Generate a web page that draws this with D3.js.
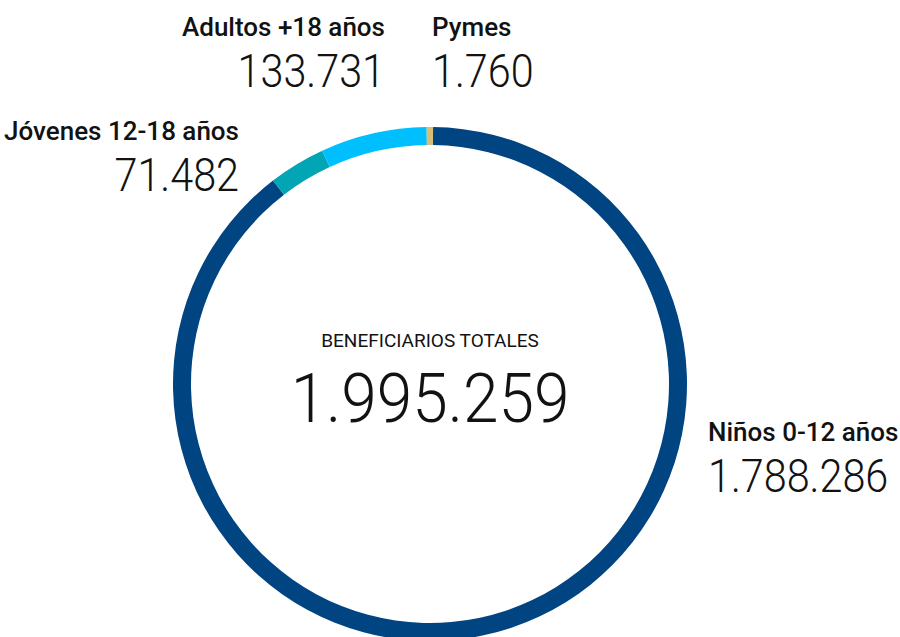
<!DOCTYPE html>
<html>
<head>
<meta charset="utf-8">
<script src="https://cdn.jsdelivr.net/npm/d3@7"></script>
<style>
  html, body { margin: 0; padding: 0; background: #fff; }
  svg { display: block; font-family: Roboto, "Noto Sans", sans-serif; }
  .lbl { font-weight: 500; font-size: 26px; fill: #121212; }
  .num { font-weight: 300; font-size: 47px; fill: #121212; }
</style>
</head>
<body>
<div class="chart_container"></div>
<script>
var categories = ["Niños 0-12 años", "Jóvenes 12-18 años", "Adultos +18 años", "Pymes"];
var values = [1788286, 71482, 133731, 1760];
var colors = ["#004481", "#02A5B3", "#00BFFF", "#D8BE75"];
var centerTitle = "BENEFICIARIOS TOTALES";

var width = 900, height = 637;
var cx = 430, cy = 384;
var outerR = 257, innerR = 239;

// label positions (x, baseline of the name, anchor)
var labelPos = [
    {x: 708, y: 441, anchor: "start"},
    {x: 239, y: 140, anchor: "end"},
    {x: 385, y: 36, anchor: "end"},
    {x: 432, y: 36, anchor: "start"}
];

var es = d3.formatLocale({decimal: ",", thousands: ".", grouping: [3], currency: ["", " €"]});
var fmt = es.format(",d");

var svg = d3.select(".chart_container").append("svg")
    .attr("width", width)
    .attr("height", height);

var data = categories.map(function(c, i){
    return {name: c, value: values[i], color: colors[i]};
});
var total = d3.sum(values);

/* muy pequeño -> se le da un minimo para que se vea */
var pie = d3.pie()
    .sort(null)
    .startAngle(0.012)
    .endAngle(0.012 + Math.PI * 2)
    .value(function(d){ return Math.max(d.value, total * 0.004); });

var arc = d3.arc()
    .innerRadius(innerR)
    .outerRadius(outerR);

var g = svg.append("g").attr("transform", "translate(" + cx + "," + cy + ")");

g.selectAll(".slice")
    .data(pie(data))
    .enter().append("path")
    .attr("class", "slice")
    .attr("d", arc)
    .attr("fill", function(d){ return d.data.color; });

g.append("text")
    .attr("text-anchor", "middle")
    .attr("y", -37)
    .attr("font-size", 19)
    .attr("font-weight", 400)
    .attr("fill", "#121212")
    .text(centerTitle);

g.append("text")
    .attr("text-anchor", "middle")
    .attr("y", 38)
    .attr("font-size", 68)
    .attr("font-weight", 300)
    .attr("fill", "#121212")
    .attr("transform", "scale(0.94,1)")
    .text(fmt(total));

var lab = svg.selectAll(".label")
    .data(data)
    .enter().append("g")
    .attr("class", "label")
    .attr("transform", function(d, i){
        return "translate(" + labelPos[i].x + "," + labelPos[i].y + ")";
    });

lab.append("text")
    .attr("class", "lbl")
    .attr("text-anchor", function(d, i){ return labelPos[i].anchor; })
    .text(function(d){ return d.name; });

lab.append("text")
    .attr("class", "num")
    .attr("y", 51)
    .attr("transform", "scale(0.88,1)")
    .attr("text-anchor", function(d, i){ return labelPos[i].anchor; })
    .text(function(d){ return fmt(d.value); });
</script>
</body>
</html>
